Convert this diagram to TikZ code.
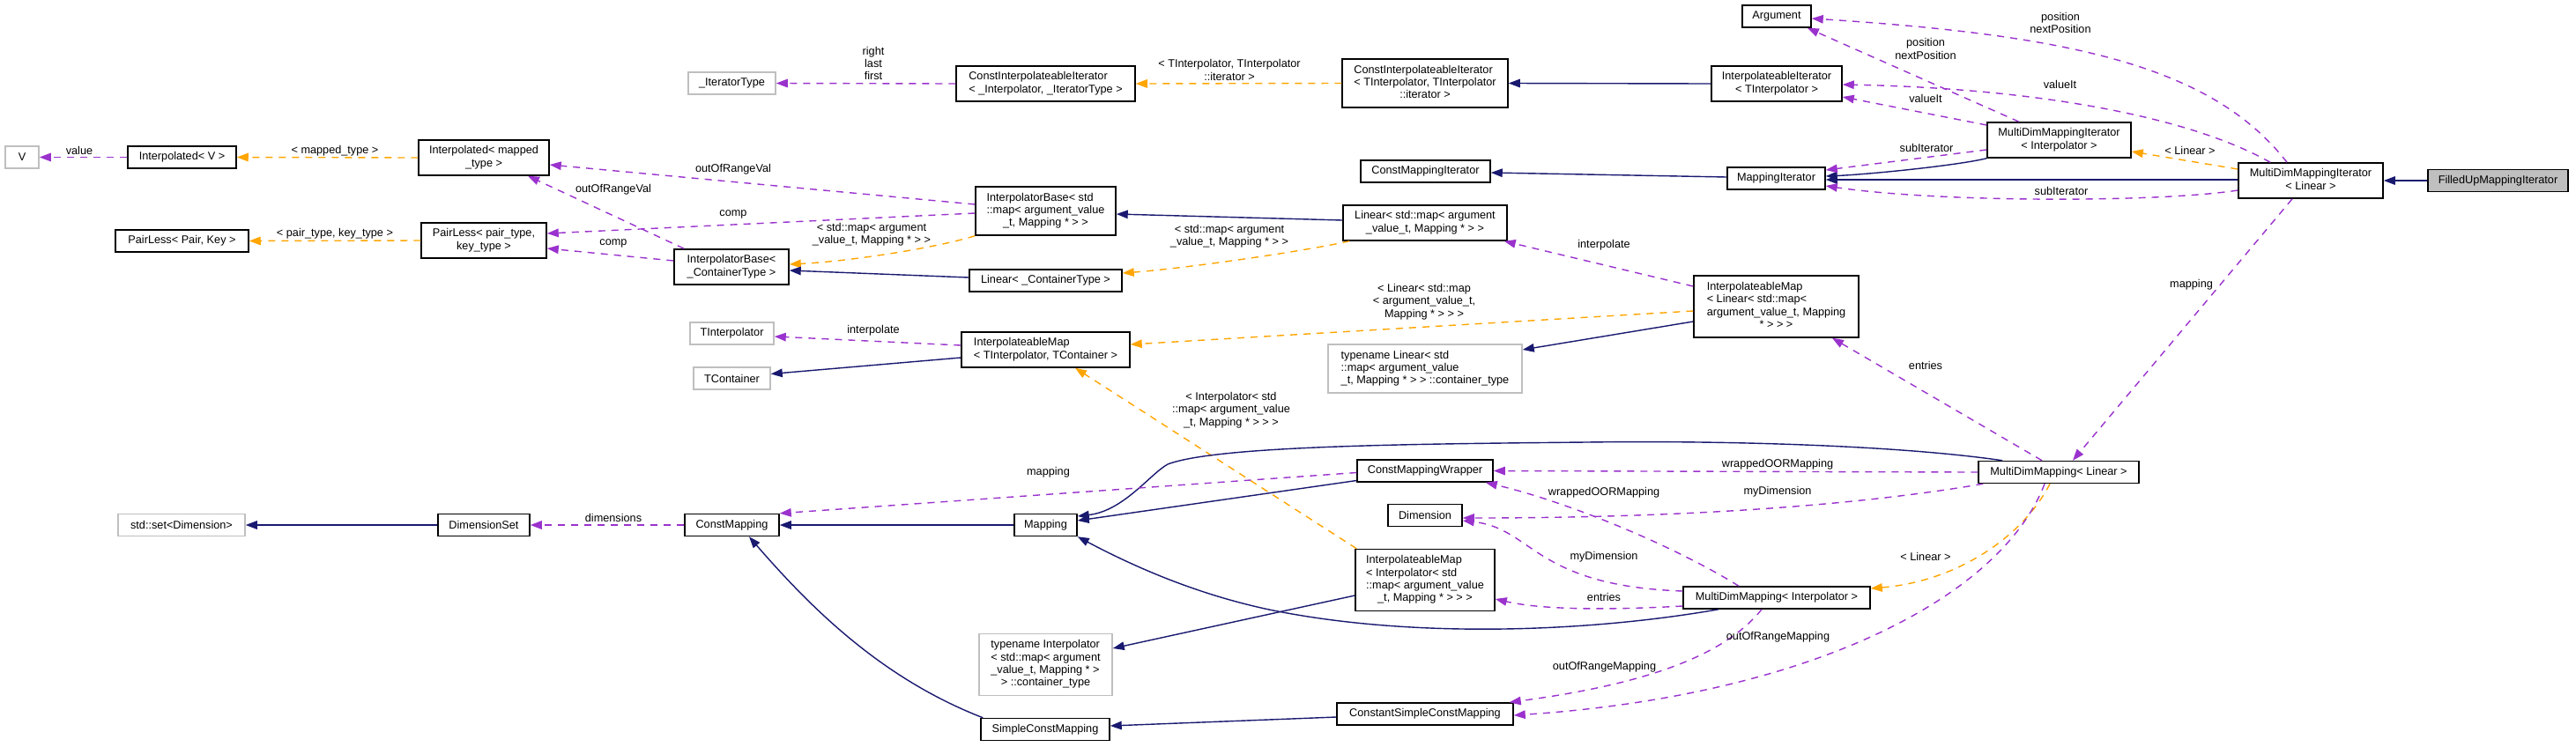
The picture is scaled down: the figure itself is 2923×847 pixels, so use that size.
\documentclass[tikz,border=0pt]{standalone}
\usepackage{fontspec}
\setmainfont{Liberation Sans}
\usetikzlibrary{arrows.meta}

\definecolor{inhcol}{HTML}{191970}
\definecolor{usecol}{HTML}{9A32CD}
\definecolor{tplcol}{HTML}{FFA500}
\definecolor{undoc}{HTML}{BFBFBF}

\newcommand{\dgfont}{\fontsize{12.7}{14.3}\selectfont}
% all lines left aligned, the last one centred
\newcommand{\mlines}[2]{\begin{tabular}{@{}l@{}}#1\\\multicolumn{1}{@{}c@{}}{#2}\end{tabular}}

\tikzset{
  cls/.style={draw=black, line width=1.5pt, inner sep=0pt, font=\dgfont},
  ext/.style={cls, draw=undoc},
  self/.style={cls, fill=undoc},
  sz/.style 2 args={minimum width=#1pt, minimum height=#2pt},
  lbl/.style={inner sep=0pt, font=\dgfont, align=center},
  inherit/.style={draw=inhcol, line width=1.4pt, -{Triangle[length=13pt,width=9.5pt]}},
  member/.style={draw=usecol, line width=1.4pt, dash pattern=on 8pt off 7pt, -{Triangle[length=13pt,width=9.5pt]}},
  tmpl/.style={draw=tplcol, line width=1.4pt, dash pattern=on 8pt off 7pt, -{Triangle[length=13pt,width=9.5pt]}}
}

\begin{document}
\begin{tikzpicture}[x=1pt, y=-1pt]

    \fill[white] (0,0) rectangle (2923,847);
    \useasboundingbox (0,0) rectangle (2923,847);

    % classes
    \node[ext, sz={38}{25}] (V) at (25,178.5) {V};
    \node[cls, sz={123}{25}] (IV) at (206.5,178.5) {Interpolated< V >};
    \node[cls, sz={148}{40}] (IMT) at (549,179) {\mlines{Interpolated< mapped}{\_type >}};
    \node[cls, sz={151}{25}] (PLK) at (206.5,273.5) {PairLess< Pair, Key >};
    \node[cls, sz={142}{40}] (PLT) at (549,273) {\mlines{PairLess< pair\_type,}{key\_type >}};
    \node[ext, sz={99}{25}] (IterT) at (830.5,94.5) {\_IteratorType};
    \node[cls, sz={203}{40}] (CIIgen) at (1186.5,95) {\mlines{ConstInterpolateableIterator}{< \_Interpolator, \_IteratorType >}};
    \node[cls, sz={159}{55}] (IBmap) at (1186.5,239.5) {\mlines{InterpolatorBase< std\\::map< argument\_value}{\_t, Mapping * > >}};
    \node[cls, sz={130}{40}] (IBct) at (830,303) {\mlines{InterpolatorBase<}{\_ContainerType >}};
    \node[cls, sz={173}{25}] (LinCT) at (1186.5,318.5) {Linear< \_ContainerType >};
    \node[ext, sz={95}{25}] (TInt) at (830.5,378.5) {TInterpolator};
    \node[ext, sz={87}{25}] (TCon) at (830.5,429.5) {TContainer};
    \node[cls, sz={191}{40}] (IMtt) at (1186.5,397) {\mlines{InterpolateableMap}{< TInterpolator, TContainer >}};
    \node[cls, sz={78}{25}] (Arg) at (2016,18.5) {Argument};
    \node[cls, sz={188}{55}] (CIIt) at (1617,94.5) {\mlines{ConstInterpolateableIterator\\< TInterpolator, TInterpolator}{::iterator >}};
    \node[cls, sz={148}{40}] (II) at (2016,95) {\mlines{InterpolateableIterator}{< TInterpolator >}};
    \node[cls, sz={147}{25}] (CMI) at (1617.5,194.5) {ConstMappingIterator};
    \node[cls, sz={111}{25}] (MI) at (2015.5,202.5) {MappingIterator};
    \node[cls, sz={186}{40}] (LinMap) at (1617,253) {\mlines{Linear< std::map< argument}{\_value\_t, Mapping * > >}};
    \node[cls, sz={187}{70}] (IMlin) at (2015.5,348) {\mlines{InterpolateableMap\\< Linear< std::map<\\argument\_value\_t, Mapping}{* > > >}};
    \node[ext, sz={220}{55}] (TNlin) at (1617,418.5) {\mlines{typename Linear< std\\::map< argument\_value}{\_t, Mapping * > > ::container\_type}};
    \node[cls, sz={163}{40}] (MDMII) at (2336.5,159) {\mlines{MultiDimMappingIterator}{< Interpolator >}};
    \node[cls, sz={164}{40}] (MDMIL) at (2622,205) {\mlines{MultiDimMappingIterator}{< Linear >}};
    \node[self, sz={159}{25}] (FUMI) at (2834.5,205) {FilledUpMappingIterator};
    \node[ext, sz={144}{25}] (SetD) at (206,596) {std::set<Dimension>};
    \node[cls, sz={104}{25}] (DS) at (549,596) {DimensionSet};
    \node[cls, sz={107}{25}] (CM) at (830.5,596) {ConstMapping};
    \node[cls, sz={71}{25}] (Map) at (1186.5,596) {Mapping};
    \node[ext, sz={151}{70}] (TNint) at (1186.5,754.5) {\mlines{typename Interpolator\\< std::map< argument\\\_value\_t, Mapping * >}{> ::container\_type}};
    \node[cls, sz={146}{25}] (SCM) at (1186,828) {SimpleConstMapping};
    \node[cls, sz={154}{25}] (CMW) at (1617,534.5) {ConstMappingWrapper};
    \node[cls, sz={84}{25}] (Dim) at (1617,585) {Dimension};
    \node[cls, sz={158}{70}] (IMint) at (1617,658.5) {\mlines{InterpolateableMap\\< Interpolator< std\\::map< argument\_value}{\_t, Mapping * > > >}};
    \node[cls, sz={200}{25}] (CSCM) at (1617,810.5) {ConstantSimpleConstMapping};
    \node[cls, sz={212}{25}] (MDMI) at (2016,678.5) {MultiDimMapping< Interpolator >};
    \node[cls, sz={182}{25}] (MDML) at (2336,536) {MultiDimMapping< Linear >};

    % left part
    \draw[member] (IV.west) -- (V.east);
    \draw[tmpl] (IMT.west) -- (IV.east);
    \draw[tmpl] (PLT.west) -- (PLK.east);
    \draw[member] ([yshift=7.5pt]IBmap.west) -- ([yshift=-8pt]IMT.east);
    \draw[member] ([xshift=12pt]IBct.north west) -- ([xshift=50pt]IMT.south);
    \draw[member] ([yshift=-2.5pt]IBmap.west) -- ([yshift=8pt]PLT.east);
    \draw[member] ([yshift=7pt]IBct.west) -- ([yshift=-9pt]PLT.east);
    \draw[tmpl] (IBmap.south west) .. controls (1060,282) and (960,297) .. ([yshift=3pt]IBct.east);
    \draw[inherit] ([yshift=3.5pt]LinCT.west) -- ([yshift=-4pt]IBct.east);
    \draw[inherit] ([yshift=3pt]LinMap.west) -- ([yshift=-3.5pt]IBmap.east);
    \draw[tmpl] ([xshift=8pt]LinMap.south west) .. controls (1470,287) and (1340,305) .. ([yshift=8.5pt]LinCT.east);
    \draw[member] (CIIgen.west) -- (IterT.east);
    \draw[tmpl] (CIIt.west) -- (CIIgen.east);
    \draw[inherit] (II.west) -- (CIIt.east);
    \draw[member] ([yshift=5pt]IMtt.west) -- ([yshift=-3.5pt]TInt.east);
    \draw[inherit] ([yshift=-9pt]IMtt.west) -- ([yshift=5pt]TCon.east);
    \draw[tmpl] ([yshift=-5pt]IMlin.west) -- ([yshift=6pt]IMtt.east);
    \draw[member] ([yshift=23pt]IMlin.west) -- ([xshift=-4pt]LinMap.south east);
    \draw[inherit] ([yshift=-17pt]IMlin.west) -- ([yshift=21.5pt]TNlin.east);
    \draw[tmpl] ([xshift=2pt]IMint.north west) -- ([xshift=33.5pt]IMtt.south);
    \draw[inherit] ([yshift=-17.5pt]IMint.west) -- ([yshift=18.5pt]TNint.east);

    % iterators
    \draw[member] ([xshift=-27pt]MDMIL.north) .. controls (2510,75) and (2350,40) .. ([yshift=-2.5pt]Arg.east);
    \draw[member] ([xshift=-45.5pt]MDMII.north) -- ([xshift=-5pt]Arg.south east);
    \draw[member] ([xshift=-46pt]MDMIL.north) .. controls (2480,130) and (2300,100) .. ([yshift=-1pt]II.east);
    \draw[member] ([yshift=17pt]MDMII.west) -- ([yshift=-15pt]II.east);
    \draw[inherit] (MDMII.south west) .. controls (2220,188) and (2120,198) .. ([yshift=2.5pt]MI.east);
    \draw[inherit] ([yshift=1pt]MDMIL.west) -- ([yshift=-1.5pt]MI.east);
    \draw[member] ([yshift=-11pt]MDMII.west) -- ([yshift=9.5pt]MI.east);
    \draw[member] ([yshift=-11pt]MDMIL.west) .. controls (2450,230) and (2200,230) .. ([yshift=-8.5pt]MI.east);
    \draw[inherit] ([yshift=1.5pt]MI.west) -- ([yshift=-1.5pt]CMI.east);
    \draw[tmpl] ([yshift=13pt]MDMIL.west) -- ([yshift=-13pt]MDMII.east);
    \draw[inherit] (FUMI.west) -- (MDMIL.east);
    \draw[member] ([xshift=-21pt]MDMIL.south) -- ([xshift=16pt]MDML.north);
    \draw[member] ([xshift=-19pt]MDML.north) -- ([xshift=63.5pt]IMlin.south);

    % mappings
    \draw[inherit] ([xshift=-64pt]MDML.north) .. controls (2150,505) and (1950,500) .. (1800,502)
                   .. controls (1600,504) and (1380,506) .. (1325,527)
                   .. controls (1305,538) and (1275,580) .. ([yshift=10pt]Map.east);
    \draw[member] (MDML.west) -- (CMW.east);
    \draw[member] ([xshift=6pt]MDML.south west) .. controls (2100,575) and (1900,588) .. ([yshift=-3pt]Dim.east);
    \draw[tmpl] ([xshift=-10pt]MDML.south) .. controls (2295,610) and (2220,660) .. ([yshift=10.5pt]MDMI.east);
    \draw[member] ([xshift=-16pt]MDML.south) .. controls (2270,680) and (2050,790) .. ([yshift=-1.5pt]CSCM.east);
    \draw[member] ([xshift=-17pt]MDMI.south) .. controls (1960,740) and (1880,775) .. ([xshift=-5pt]CSCM.north east);
    \draw[member] ([xshift=-43pt]MDMI.north) .. controls (1900,620) and (1780,570) .. ([xshift=-9pt]CMW.south east);
    \draw[member] ([yshift=7.5pt]MDMI.west) .. controls (1740,665) and (1740,600) .. ([yshift=-6pt]Dim.east);
    \draw[member] ([yshift=-9.5pt]MDMI.west) .. controls (1800,694) and (1740,690) .. ([yshift=-21.5pt]IMint.east);
    \draw[inherit] ([xshift=-66pt]MDMI.south) .. controls (1800,718) and (1600,725) .. (1440,692)
                   .. controls (1360,675) and (1290,645) .. (Map.south east);
    \draw[inherit] ([yshift=-11pt]CMW.west) -- ([yshift=5pt]Map.east);
    \draw[inherit] (Map.west) -- (CM.east);
    \draw[member] ([yshift=-2pt]CMW.west) -- (CM.north east);
    \draw[member] (CM.west) -- (DS.east);
    \draw[inherit] (DS.west) -- (SetD.east);
    \draw[inherit] ([xshift=3pt]SCM.north west) .. controls (1000,770) and (920,690) .. ([xshift=19.5pt]CM.south);
    \draw[inherit] ([yshift=-3.5pt]CSCM.west) -- ([yshift=4pt]SCM.east);

    % edge labels
    \node[lbl] (l-value) at (90,171) {value};
    \node[lbl] (l-mtype) at (380,171) {< mapped\_type >};
    \node[lbl] (l-pair) at (380,265) {< pair\_type, key\_type >};
    \node[lbl] (l-oor1) at (696,215) {outOfRangeVal};
    \node[lbl] (l-comp1) at (696,276) {comp};
    \node[lbl] (l-oor2) at (832,192) {outOfRangeVal};
    \node[lbl] (l-comp2) at (832,243) {comp};
    \node[lbl] (l-rlf) at (991,72) {right\\last\\first};
    \node[lbl] (l-titer) at (1395,79.5) {< TInterpolator, TInterpolator\\::iterator >};
    \node[lbl] (l-smap1) at (989,266) {< std::map< argument\\\_value\_t, Mapping * > >};
    \node[lbl] (l-smap2) at (1395,268.5) {< std::map< argument\\\_value\_t, Mapping * > >};
    \node[lbl] (l-interp1) at (991,375) {interpolate};
    \node[lbl] (l-interp2) at (1820,278) {interpolate};
    \node[lbl] (l-linmap) at (1616,342.5) {< Linear< std::map\\< argument\_value\_t,\\Mapping * > > >};
    \node[lbl] (l-intmap) at (1397,465.5) {< Interpolator< std\\::map< argument\_value\\\_t, Mapping * > > >};
    \node[lbl] (l-pos1) at (2338,26) {position\\nextPosition};
    \node[lbl] (l-pos2) at (2185,55.5) {position\\nextPosition};
    \node[lbl] (l-val1) at (2337.5,96) {valueIt};
    \node[lbl] (l-val2) at (2185,112) {valueIt};
    \node[lbl] (l-sub1) at (2186,168) {subIterator};
    \node[lbl] (l-sub2) at (2339,217) {subIterator};
    \node[lbl] (l-lin1) at (2485,171) {< Linear >};
    \node[lbl] (l-map1) at (2486.5,323) {mapping};
    \node[lbl] (l-ent1) at (2185,415) {entries};
    \node[lbl] (l-map2) at (1189.5,536) {mapping};
    \node[lbl] (l-dims) at (696,588) {dimensions};
    \node[lbl] (l-wrap1) at (2017,527) {wrappedOORMapping};
    \node[lbl] (l-dim1) at (2017,558) {myDimension};
    \node[lbl] (l-wrap2) at (1820,559) {wrappedOORMapping};
    \node[lbl] (l-dim2) at (1820,632) {myDimension};
    \node[lbl] (l-ent2) at (1820,678) {entries};
    \node[lbl] (l-oorm1) at (2017.5,723) {outOfRangeMapping};
    \node[lbl] (l-oorm2) at (1820.5,757) {outOfRangeMapping};
    \node[lbl] (l-lin2) at (2185,632) {< Linear >};

\end{tikzpicture}
\end{document}
